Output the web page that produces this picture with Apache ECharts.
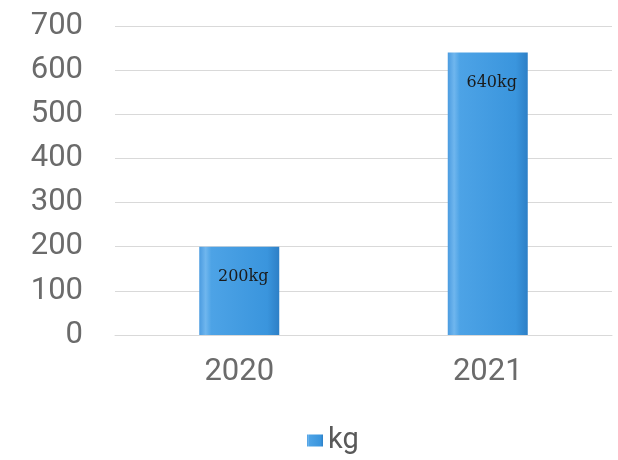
<!DOCTYPE html>
<html><head><meta charset="utf-8">
<script src="https://cdn.jsdelivr.net/npm/echarts@6/dist/echarts.min.js"></script>
<style>html,body{margin:0;padding:0;background:#fff}#c{width:618px;height:460px}</style>
</head><body><div id="c"></div>
<script>
const categories = ['2020', '2021'];
const values = [200, 640];
const seriesName = 'kg';
const labels = ['200kg', '640kg'];

const chart = echarts.init(document.getElementById('c'));
chart.setOption({
  animation: false,
  grid: {left: 115, right: 6, top: 26, bottom: 125},
  legend: {
    bottom: 0, left: 302, itemWidth: 16, itemHeight: 12, itemGap: 6,
    textStyle: {fontSize: 29, color: '#595959', fontFamily: 'Roboto'},
    data: [{name: seriesName, icon: 'rect'}]
  },
  xAxis: {
    type: 'category', data: categories,
    axisLine: {lineStyle: {color: '#d9d9d9'}},
    axisTick: {show: false},
    axisLabel: {fontSize: 31, color: '#6b6b6b', margin: 22, fontFamily: 'Roboto'}
  },
  yAxis: {
    type: 'value', min: 0, max: 700, interval: 100,
    axisLine: {show: false}, axisTick: {show: false},
    splitLine: {lineStyle: {color: '#d9d9d9'}},
    axisLabel: {fontSize: 31, color: '#6b6b6b', margin: 32, fontFamily: 'Roboto'}
  },
  series: [{
    name: seriesName, type: 'bar', barWidth: 80,
    data: values,
    itemStyle: {
      color: new echarts.graphic.LinearGradient(0, 0, 1, 0, [
        {offset: 0, color: '#4a9be0'},
        {offset: 0.08, color: '#6fb6ee'},
        {offset: 0.15, color: '#4da3e6'},
        {offset: 0.85, color: '#3a95dd'},
        {offset: 1, color: '#2d7fc6'}
      ])
    },
    label: {
      show: true, position: 'insideTop', distance: 22, offset: [4, 0],
      fontFamily: 'DejaVu Serif', fontSize: 16, color: '#1a1a1a',
      formatter: p => labels[p.dataIndex]
    }
  }]
});
</script></body></html>
